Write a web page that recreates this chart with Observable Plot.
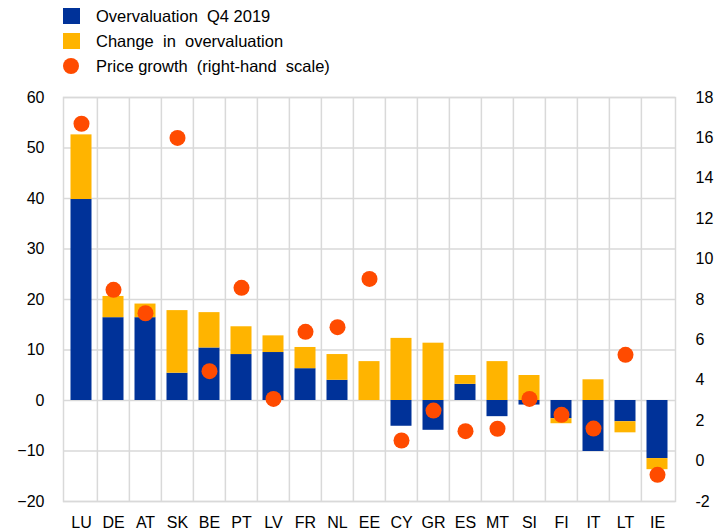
<!DOCTYPE html>
<html>
<head>
<meta charset="utf-8">
<script src="https://cdn.jsdelivr.net/npm/d3@7"></script>
<script src="https://cdn.jsdelivr.net/npm/@observablehq/plot@0.6"></script>
<style>
  body { margin: 0; background: #fff; font-family: "Liberation Sans", Arial, sans-serif; }
  #legend { height: 85px; position: relative; }
  .item { position: absolute; left: 63px; height: 20px; display: flex; align-items: center; font-size: 16.5px; color: #000; white-space: pre; }
  .sw { width: 17px; height: 16px; margin-right: 16px; }
  .dotsw { width: 16px; height: 16px; border-radius: 50%; margin-right: 17px; }
</style>
</head>
<body>
<div id="legend"></div>
<div id="chart"></div>
<script>
const categories = ["LU","DE","AT","SK","BE","PT","LV","FR","NL","EE","CY","GR","ES","MT","SI","FI","IT","LT","IE"];
const overvaluation = [39.8, 16.4, 16.4, 5.4, 10.4, 9.1, 9.5, 6.3, 4.0, 0.0, -5.1, -5.9, 3.2, -3.2, -0.9, -3.6, -10.1, -4.2, -11.5];
const change = [12.8, 4.2, 2.7, 12.4, 7.0, 5.5, 3.3, 4.2, 5.1, 7.7, 12.3, 11.35, 1.75, 7.7, 4.95, -1.0, 4.1, -2.2, -2.2];
const priceGrowth = [16.7, 8.48, 7.32, 16.0, 4.45, 8.58, 3.08, 6.4, 6.63, 9.02, 1.02, 2.5, 1.48, 1.6, 3.08, 2.29, 1.61, 5.26, -0.68];
const seriesNames = ["Overvaluation  Q4 2019", "Change  in  overvaluation", "Price growth  (right-hand  scale)"];
const leftTicks = [-20, -10, 0, 10, 20, 30, 40, 50, 60];
const rightTicks = [-2, 0, 2, 4, 6, 8, 10, 12, 14, 16, 18];
const colors = ["#003299", "#FFB400", "#FF4B00"];

// right-hand scale mapped onto left: left = (right - 3) * 4
const toLeft = r => (r - 3) * 4;
const toRight = l => l / 4 + 3;

const bars = [];
categories.forEach((c, i) => {
  bars.push({cat: c, series: seriesNames[0], value: overvaluation[i]});
  bars.push({cat: c, series: seriesNames[1], value: change[i]});
});
const dots = categories.map((c, i) => ({cat: c, value: toLeft(priceGrowth[i])}));

// legend
const legend = document.getElementById("legend");
seriesNames.forEach((name, i) => {
  const d = document.createElement("div");
  d.className = "item";
  d.style.top = (6 + i * 25) + "px";
  const s = document.createElement("span");
  s.className = i === 2 ? "dotsw" : "sw";
  s.style.background = colors[i];
  d.appendChild(s);
  d.appendChild(document.createTextNode(name));
  legend.appendChild(d);
});

const W = 716, mL = 63, mR = 41;
const step = (W - mL - mR) / categories.length;
const grid = "#d9d9d9";

const chart = Plot.plot({
  width: W,
  height: 447,
  marginTop: 12,
  marginBottom: 31,
  marginLeft: mL,
  marginRight: mR,
  style: {fontFamily: '"Liberation Sans", Arial, sans-serif', fontSize: "16px", color: "#000", background: "#fff", overflow: "visible"},
  x: {domain: categories, padding: 0},
  y: {domain: [-20, 60]},
  color: {domain: seriesNames.slice(0, 2), range: colors.slice(0, 2)},
  marks: [
    Plot.gridY(leftTicks, {stroke: grid, strokeOpacity: 1, strokeWidth: 1.5}),
    Plot.gridX(categories.slice(1), {dx: -step / 2, stroke: grid, strokeOpacity: 1, strokeWidth: 1.5}),
    Plot.frame({stroke: grid, strokeWidth: 1.5}),
    Plot.barY(bars, Plot.stackY({x: "cat", y: "value", fill: "series", insetLeft: 5.5, insetRight: 5.5})),
    Plot.dot(dots, {x: "cat", y: "value", r: 8, fill: colors[2]}),
    Plot.axisY(leftTicks, {anchor: "left", tickSize: 0, tickPadding: 19, label: null, fontSize: 16}),
    Plot.axisY(rightTicks.map(toLeft), {anchor: "right", tickSize: 0, tickPadding: 20, label: null, tickFormat: d => String(toRight(d)), fontSize: 16}),
    Plot.axisX({tickSize: 0, tickPadding: 15, label: null, fontSize: 16})
  ]
});
document.getElementById("chart").appendChild(chart);
</script>
</body>
</html>
